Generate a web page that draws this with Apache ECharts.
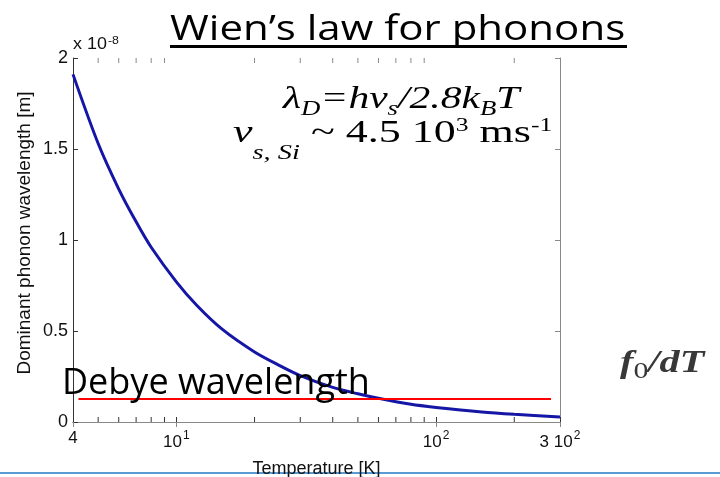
<!DOCTYPE html>
<html>
<head>
<meta charset="utf-8">
<script src="https://cdn.jsdelivr.net/npm/echarts@6/dist/echarts.min.js"></script>
<style>
  html, body { margin: 0; padding: 0; background: #fff; }
  #chart { width: 720px; height: 477px; }
</style>
</head>
<body>
<div id="chart"></div>
<script>
// temperature [K] and dominant phonon wavelength [x 1e-8 m]
const temps = [4, 5, 6, 7, 8, 10, 12, 15, 20, 25, 30, 40, 50, 60, 80, 100, 150, 200, 300]
const wavelength = [1.91, 1.53, 1.28, 1.1, 0.96, 0.77, 0.64, 0.51, 0.385, 0.31, 0.255, 0.19, 0.155, 0.13, 0.097, 0.08, 0.055, 0.042, 0.027]

// Debye wavelength reference line
const debyeT = [4.2, 277]
const debyeLevel = 0.126

// axis stuff
const xMin = 4
const xMax = 300
const yTicks = [0, 0.5, 1, 1.5, 2]
const minorTicks = [5, 6, 7, 8, 9, 20, 30, 40, 50, 60, 70, 80, 90, 200]
const xLabels = { 4: '4', 10: '{b|10}{s|1}', 100: '{b|10}{s|2}', 300: '{b|3 10}{s|2}' }

const chart = echarts.init(document.getElementById('chart'))

const tickFont = 'Liberation Sans, Arial, sans-serif'
const mathFont = 'Liberation Serif, Times New Roman, serif'
const slideFont = 'Open Sans, Noto Sans, sans-serif'

const option = {
  animation: false,
  backgroundColor: '#fff',
  grid: { left: 73, right: 160, top: 58, bottom: 55, outerBoundsMode: 'none', containLabel: false },
  xAxis: [
    {
      type: 'log',
      logBase: 10,
      min: xMin,
      max: xMax,
      position: 'bottom',
      name: 'Temperature [K]',
      nameLocation: 'middle',
      nameGap: 38,
      nameTextStyle: { fontFamily: tickFont, fontSize: 18, color: '#111' },
      axisLine: { lineStyle: { color: '#333', width: 1 } },
      axisTick: { inside: true, length: 5, lineStyle: { color: '#333' } },
      splitLine: { show: false },
      axisLabel: {
        margin: 8,
        fontFamily: tickFont,
        fontSize: 17,
        color: '#111',
        formatter: function (v) {
          const k = Math.round(v)
          return xLabels[k] || ''
        },
        rich: {
          b: { fontFamily: tickFont, fontSize: 17, color: '#111' },
          s: { fontFamily: tickFont, fontSize: 12, color: '#111', verticalAlign: 'top', padding: [0, 0, 12, 1] },
        },
      },
    },
    {
      type: 'log',
      logBase: 10,
      min: xMin,
      max: xMax,
      position: 'top',
      axisLine: { lineStyle: { color: '#888', width: 1 } },
      axisTick: { inside: true, length: 5, lineStyle: { color: '#888' } },
      axisLabel: { show: false },
      splitLine: { show: false },
    },
  ],
  yAxis: [
    {
      type: 'value',
      min: 0,
      max: 2,
      interval: 0.5,
      position: 'left',
      axisLine: { show: true, lineStyle: { color: '#333', width: 1 } },
      axisTick: { show: true, inside: true, length: 5, lineStyle: { color: '#333' } },
      splitLine: { show: false },
      axisLabel: {
        margin: 5,
        fontFamily: tickFont,
        fontSize: 18,
        color: '#111',
        formatter: function (v) {
          return yTicks.indexOf(v) >= 0 ? String(v) : ''
        },
      },
    },
    {
      type: 'value',
      min: 0,
      max: 2,
      interval: 0.5,
      position: 'right',
      axisLine: { show: true, lineStyle: { color: '#888', width: 1 } },
      axisTick: { show: true, inside: true, length: 5, lineStyle: { color: '#888' } },
      axisLabel: { show: false },
      splitLine: { show: false },
    },
  ],
  series: [
    {
      name: 'wavelength',
      type: 'line',
      smooth: 0.3,
      showSymbol: false,
      data: temps.map((t, i) => [t, wavelength[i]]),
      lineStyle: { color: '#1616a6', width: 3 },
      z: 3,
    },
    {
      name: 'debye',
      type: 'line',
      showSymbol: false,
      data: debyeT.map(t => [t, debyeLevel]),
      lineStyle: { color: '#ff0000', width: 2 },
      z: 4,
    },
    {
      // minor log ticks, MATLAB style, on bottom and top
      type: 'custom',
      clip: false,
      silent: true,
      data: minorTicks.map(t => [t, 0]),
      encode: { x: 0, y: 1 },
      renderItem: function (params, api) {
        const b = api.coord([api.value(0), 0])
        const t = api.coord([api.value(0), 2])
        return {
          type: 'group',
          children: [
            { type: 'line', shape: { x1: b[0], y1: b[1], x2: b[0], y2: b[1] - 5 }, style: { stroke: '#333', lineWidth: 1 } },
            { type: 'line', shape: { x1: t[0], y1: t[1], x2: t[0], y2: t[1] + 5 }, style: { stroke: '#888', lineWidth: 1 } },
          ],
        }
      },
      z: 2,
    },
  ],
  graphic: [
    {
      type: 'text',
      x: 170,
      y: 13,
      scaleX: 1.2,
      style: { text: 'Wien\u2019s law for phonons', fontFamily: slideFont, fontSize: 35, fill: '#000' },
    },
    {
      type: 'rect',
      shape: { x: 170, y: 45, width: 457, height: 3 },
      style: { fill: '#000' },
    },
    {
      // y axis title, placed by hand so it sits where the original one does
      type: 'text',
      x: 25,
      y: 233,
      rotation: Math.PI / 2,
      style: {
        text: 'Dominant phonon wavelength [m]',
        fontFamily: tickFont,
        fontSize: 19,
        fill: '#111',
        align: 'center',
        verticalAlign: 'middle',
      },
    },
    {
      type: 'text',
      x: 73,
      y: 35,
      scaleX: 1.12,
      style: {
        text: '{a|x 10}{s|-8}',
        rich: {
          a: { fontFamily: tickFont, fontSize: 16, fill: '#111' },
          s: { fontFamily: tickFont, fontSize: 11, fill: '#111', verticalAlign: 'top', padding: [0, 0, 9, 1] },
        },
      },
    },
    {
      type: 'text',
      x: 283,
      y: 80,
      scaleX: 1.34,
      z: 10,
      style: {
        text: '{i|\u03bb}{d|D}{i|=hv}{d|s}{i|/2.8k}{d|B}{i|T}',
        rich: {
          i: { fontFamily: mathFont, fontStyle: 'italic', fontSize: 31, fill: '#000', lineHeight: 40 },
          d: { fontFamily: mathFont, fontStyle: 'italic', fontSize: 20, fill: '#000', verticalAlign: 'bottom', lineHeight: 18 },
        },
      },
    },
    {
      type: 'text',
      x: 233,
      y: 104,
      scaleX: 1.42,
      z: 10,
      style: {
        text: '{i|v}{d|s, Si}{n| ~ 4.5 10}{u|3}{n| ms}{u|-1}',
        rich: {
          i: { fontFamily: mathFont, fontStyle: 'italic', fontSize: 31, fill: '#000', lineHeight: 60 },
          d: { fontFamily: mathFont, fontStyle: 'italic', fontSize: 20, fill: '#000', verticalAlign: 'bottom', lineHeight: 18 },
          n: { fontFamily: mathFont, fontSize: 31, fill: '#000', lineHeight: 60 },
          u: { fontFamily: mathFont, fontSize: 18, fill: '#000', verticalAlign: 'top', padding: [13, 0, 0, 0] },
        },
      },
    },
    {
      type: 'text',
      left: 62,
      top: 366,
      z: 10,
      style: { text: 'Debye wavelength', fontFamily: slideFont, fontSize: 36, fill: '#000' },
    },
    {
      type: 'text',
      x: 620,
      y: 345,
      scaleX: 1.3,
      style: {
        text: '{i|f}{n|0}{i|/dT}',
        rich: {
          i: { fontFamily: mathFont, fontStyle: 'italic', fontWeight: 'bold', fontSize: 31, fill: '#383838', lineHeight: 38 },
          n: { fontFamily: mathFont, fontSize: 23, fill: '#383838', verticalAlign: 'bottom', lineHeight: 38 },
        },
      },
    },
    {
      type: 'rect',
      shape: { x: 0, y: 472, width: 720, height: 2 },
      style: { fill: '#5b9bd5' },
    },
  ],
}

option && chart.setOption(option)
</script>
</body>
</html>
